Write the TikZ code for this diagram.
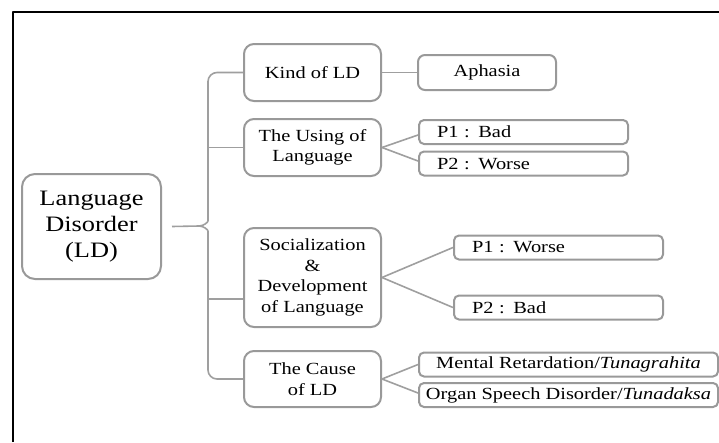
\documentclass[tikz,border=0pt]{standalone}
\usepackage{fontspec}
\setmainfont{Liberation Serif}[FakeStretch=1.2]
\usetikzlibrary{positioning}

\begin{document}
\begin{tikzpicture}[x=1pt, y=-1pt, line join=round,
        box/.style={draw=gray!80, line width=2pt, rounded corners=10pt, align=center, inner sep=0pt, fill=white},
        sub/.style={box, rounded corners=5pt, minimum height=24pt},
        pbox/.style={sub, txt, anchor=west, align=left, text width=173pt, inner xsep=18pt},
        conn/.style={draw=gray!75, line width=1.6pt},
        big/.style={font=\fontsize{22}{26}\selectfont},
        txt/.style={font=\fontsize{17}{20.5}\selectfont}]
        \useasboundingbox (0,0) rectangle (719,442);
        \draw[line width=2.2pt] (13,442) -- (13,12) -- (719,12);

        \node (root) [box, big, rounded corners=13pt, minimum width=139pt, minimum height=105pt] at (91.5,226.5) {Language\\Disorder\\(LD)};
        \node (kind) [box, txt, minimum width=137pt, minimum height=57pt] at (312.5,72.5) {Kind of LD};
        \node (using) [box, txt, minimum width=137pt, minimum height=57pt] at (312.5,147.5) {The Using of\\Language};
        \node (social) [box, txt, minimum width=137pt, minimum height=99pt] at (312.5,277.5) {Socialization\\\&\\Development\\of Language};
        \node (cause) [box, txt, minimum width=137pt, minimum height=56pt] at (312.5,379) {The Cause\\of LD};

        \node (aphasia) [box, txt, rounded corners=7pt, minimum width=138pt, minimum height=35pt, right=35pt of kind] {Aphasia};
        \node (ubad) [pbox] at (418,132) {P1 : Bad};
        \node (uworse) [pbox] at (418,163.5) {P2 : Worse};
        \node (sworse) [pbox] at (453,247.5) {P1 : Worse};
        \node (sbad) [pbox] at (453,307.5) {P2 : Bad};
        \node (mental) [sub, txt, anchor=west, minimum width=299pt] at (418,364.5) {Mental Retardation/\textit{Tunagrahita}};
        \node (organ) [sub, txt, anchor=west, minimum width=299pt] at (418,395) {Organ Speech Disorder/\textit{Tunadaksa}};

        \coordinate (tip) at (199,226);
        \draw[conn] ([xshift=10pt]root.east) -- (tip);
        \draw[conn, rounded corners=9pt] (kind.west) -| (208,212) .. controls (208,222) and (204,226) .. (tip);
        \draw[conn, rounded corners=9pt] (tip) .. controls (204,226) and (208,230) .. (208,240) |- (cause.west);
        \draw[conn] (208,147.5) -- (using.west);
        \draw[conn] (208,299) -- ([yshift=-21.5pt]social.west);

        \path[conn]
            (kind) edge (aphasia)
            (using.east) edge ([yshift=-3pt]ubad.west)
            (using.east) edge ([yshift=2.5pt]uworse.west)
            (social.east) edge (sworse.west)
            (social.east) edge (sbad.west)
            (cause.east) edge (mental.west)
            (cause.east) edge ([yshift=2pt]organ.west);
    \end{tikzpicture}
\end{document}
